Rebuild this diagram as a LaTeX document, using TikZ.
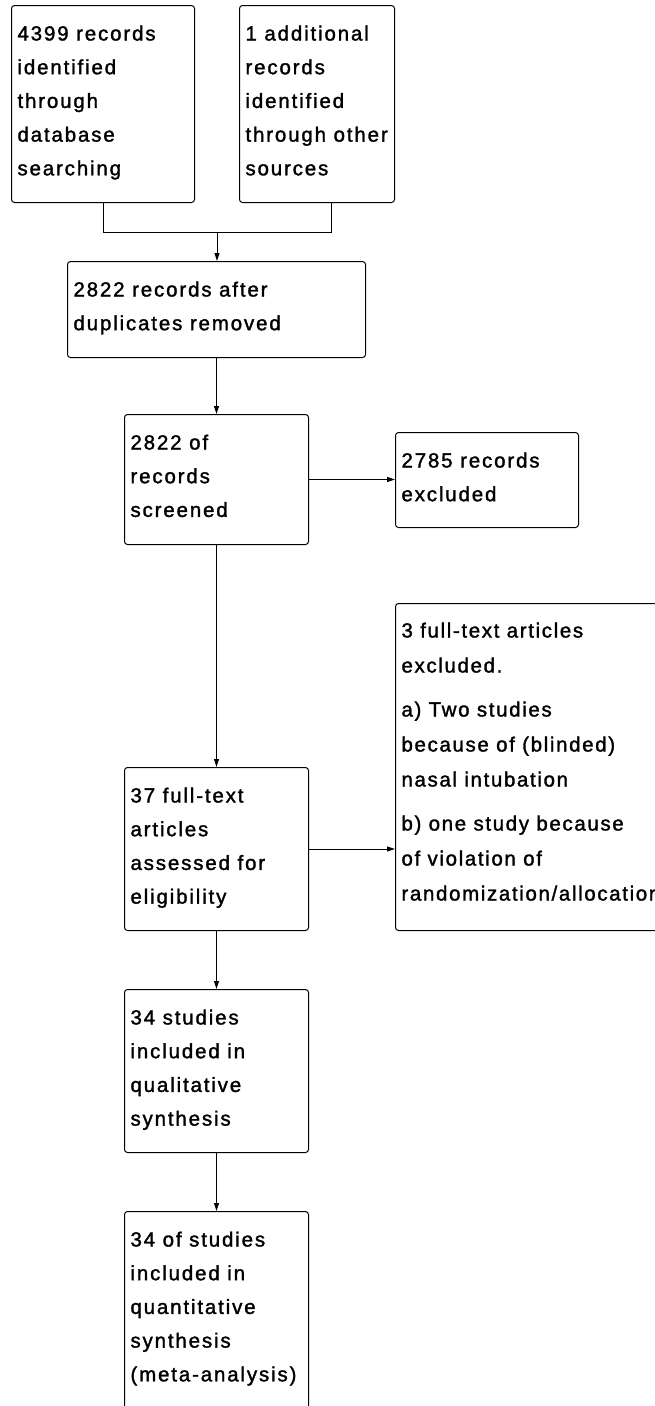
\documentclass[tikz,border=0pt]{standalone}
\usepackage{fontspec}
\setmainfont{Liberation Sans}[LetterSpace=9, FakeBold=1.5]
\newfontfamily\rfont{Liberation Sans}[LetterSpace=8, FakeBold=1.5]
\usetikzlibrary{arrows.meta}
\newcommand{\boxtxt}[3]{\parbox[c][#2][t]{#1}{\raggedright\rule{0pt}{35pt}#3}}
\tikzset{
  box/.style={draw, rounded corners=3pt, line width=1pt, inner xsep=6pt, inner ysep=0pt,
    anchor=north west, font=\fontsize{20.5}{33.7}\selectfont},
  conn/.style={line width=1pt},
  arr/.style={line width=1pt, -{Triangle[length=8pt,width=5pt]}}
}
\begin{document}
\begin{tikzpicture}[x=1pt,y=-1pt]
\useasboundingbox (0,0) rectangle (654,1406);
\node[box] (b1) at (11,5) {\boxtxt{171pt}{197pt}{4399 records\\identified\\through\\database\\searching}};
\node[box] (b2) at (239,5) {\boxtxt{143pt}{197pt}{1 additional\\records\\identified\\through other\\sources}};
\node[box] (b3) at (67,261) {\boxtxt{286pt}{96pt}{2822 records after\\duplicates removed}};
\node[box] (b4) at (124,414) {\boxtxt{172pt}{130pt}{2822 of\\records\\screened}};
\node[box] (b5) at (395,432) {\boxtxt{171pt}{95pt}{2785 records\\excluded}};
\node[box] (b9) at (395,603) {\parbox[c][327pt][t]{278pt}{\raggedright\rfont\fontsize{20.5}{35}\selectfont\rule{0pt}{34pt}3 full-text articles\\excluded.\\[9pt]a) Two studies\\because of (blinded)\\nasal intubation\\[9pt]b) one study because\\of violation of\\randomization/allocation}};
\node[box] (b6) at (124,767) {\boxtxt{172pt}{163pt}{37 full-text\\articles\\assessed for\\eligibility}};
\node[box] (b7) at (124,989) {\boxtxt{172pt}{163pt}{34 studies\\included in\\qualitative\\synthesis}};
\node[box] (b8) at (124,1211) {\boxtxt{172pt}{230pt}{34 of studies\\included in\\quantitative\\synthesis\\(meta-analysis)}};
\coordinate (j) at (217,232);
\draw[conn] (b1.south) -- (b1.south |- j) -- ([xshift=14.5pt]b2.south |- j) -- ([xshift=14.5pt]b2.south);
\draw[arr] (j) -- (j |- b3.north);
\draw[arr] (b3.south) -- (b3.south |- b4.north);
\draw[arr] (b4.east) -- (b4.east -| b5.west);
\draw[arr] (b4.south) -- (b6.north);
\draw[arr] (b6.east) -- (b6.east -| b9.west);
\draw[arr] (b6.south) -- (b7.north);
\draw[arr] (b7.south) -- (b8.north);
\end{tikzpicture}
\end{document}
